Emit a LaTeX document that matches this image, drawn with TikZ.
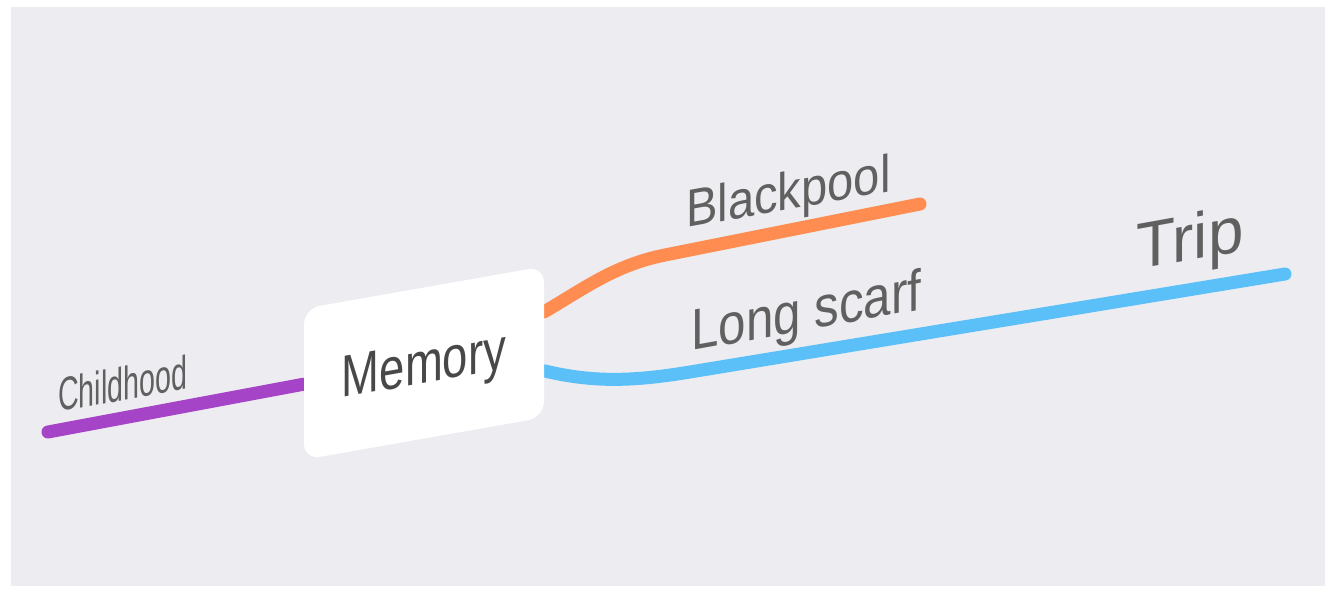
\documentclass[tikz,border=0pt]{standalone}
\usepackage{fontspec}
\setmainfont{Liberation Sans}
\usetikzlibrary{backgrounds}
\definecolor{bg}{RGB}{237,236,241}
\definecolor{txtmain}{RGB}{72,72,72}
\definecolor{txt}{RGB}{96,96,96}
\definecolor{cpurple}{RGB}{166,68,200}
\definecolor{corange}{RGB}{255,140,80}
\definecolor{cblue}{RGB}{92,192,248}
\begin{document}
\begin{tikzpicture}[x=1pt,y=-1pt,
  branch/.style={line width=13pt, line cap=round},
  lbl/.style={inner sep=0pt, anchor=base west, text=txt, yslant=0.18},
  centre/.style={fill=white, rounded corners=16pt, yslant=0.176,
    minimum width=240pt, minimum height=151pt, inner sep=0pt,
    text depth=0pt, text=txtmain, font=\fontsize{59}{61}\selectfont}]
\useasboundingbox (0,0) rectangle (1325,589);
\node[centre] (memory) at (424,363) {\scalebox{0.77}[1]{Memory}};
\coordinate (childend) at (48,432);
\coordinate (blackend) at (920,204);
\coordinate (tripend) at (1285,274);
\begin{pgfonlayer}{background}
\fill[bg] (11,7) rectangle (1325,586);
\draw[branch, cpurple] (childend) -- (memory.west);
\draw[branch, corange] ([yshift=30pt]memory.east) .. controls (585,288) and (615,265) .. (665,255) -- (blackend);
\draw[branch, cblue] ([yshift=-29pt]memory.east) .. controls (595,383) and (635,381) .. (690,372) -- (tripend);
\end{pgfonlayer}
\node[lbl, font=\fontsize{47}{49}\selectfont] (childhood) at (58,412) {\scalebox{0.61}[1]{Childhood}};
\node[lbl, font=\fontsize{53}{55}\selectfont] (blackpool) at (686,228) {\scalebox{0.89}[1]{Blackpool}};
\node[lbl, font=\fontsize{58}{60}\selectfont] (longscarf) at (691,351) {\scalebox{0.85}[1]{Long scarf}};
\node[lbl, font=\fontsize{65}{67}\selectfont] (trip) at (1136,270) {\scalebox{0.98}[1]{Trip}};
\end{tikzpicture}
\end{document}
